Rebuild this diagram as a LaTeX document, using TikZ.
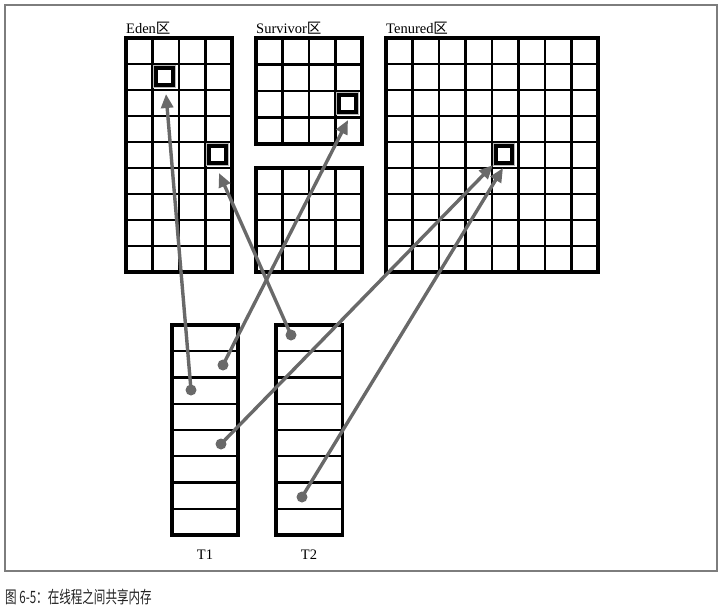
\documentclass[tikz,border=0pt]{standalone}
\usepackage{fontspec}
\setmainfont{Liberation Serif}
\newfontfamily\cjk{Noto Sans CJK SC}
\usetikzlibrary{arrows.meta}
\definecolor{ptrgray}{RGB}{105,105,105}
\definecolor{framegray}{RGB}{125,125,125}
\definecolor{captext}{RGB}{35,35,35}
\newcommand\memgrid[6]{% x y cols rows w h
  \foreach \c in {1,...,#3} {\draw[innerline] ({#1+\c*#5},#2) -- ({#1+\c*#5},{#2+#4*#6});}
  \foreach \r in {1,...,#4} {\draw[innerline] (#1,{#2+\r*#6}) -- ({#1+#3*#5},{#2+\r*#6});}
  \draw[outerline] (#1,#2) rectangle ({#1+#3*#5},{#2+#4*#6});
}
\newcommand\hlcell[3]{% name x y (cell top-left)
  \draw[gray!55, line width=0.8pt] ({#2+1},{#3+1.5}) rectangle ({#2+22.5},{#3+23.5});
  \draw[line width=4pt] ({#2+3.5},{#3+4}) rectangle ({#2+20},{#3+21});
  \coordinate (#1) at ({#2+12},{#3+12});
}
\begin{document}
\begin{tikzpicture}[x=1pt,y=-1pt,
  outerline/.style={line width=3.8pt},
  innerline/.style={line width=2.4pt},
  ptr/.style={draw=ptrgray, line width=3.4pt, -{Triangle[length=14pt,width=12pt]}},
  dotnode/.style={circle, fill=ptrgray, inner sep=0pt, minimum size=11pt},
  lab/.style={font=\fontsize{14.5}{14.5}\selectfont, anchor=base west, inner sep=0pt},
  tlab/.style={font=\fontsize{14.5}{14.5}\selectfont, anchor=base, inner sep=0pt},
]
\useasboundingbox (0,0) rectangle (723,611);
\draw[framegray, line width=1.6pt] (5,5) rectangle (717,571);

% labels
\node[lab] (edenlab) at (126,33) {Eden{\cjk 区}};
\node[lab] (survlab) at (256,33) {Survivor{\cjk 区}};
\node[lab] (tenlab) at (386,33) {Tenured{\cjk 区}};

% heap grids
\memgrid{126}{38}{4}{9}{26.5}{26}
\memgrid{256}{38}{4}{4}{26.5}{26.5}
\memgrid{256}{168}{4}{4}{26.5}{26}
\memgrid{386}{38}{8}{9}{26.5}{26}

% highlighted objects
\hlcell{edenA}{152.5}{64}
\hlcell{edenB}{205.5}{142}
\hlcell{survA}{335.5}{91}
\hlcell{tenA}{492}{142}

% thread stacks
\memgrid{172}{325}{1}{8}{66}{26.25}
\memgrid{276}{325}{1}{8}{66.5}{26.25}
\node[tlab] (t1) at (205,559) {T1};
\node[tlab] (t2) at (309,559) {T2};

% references
\node[dotnode] (d1) at (191,390) {};
\node[dotnode] (d2) at (223,365) {};
\node[dotnode] (d3) at (221,444) {};
\node[dotnode] (d4) at (291,335) {};
\node[dotnode] (d5) at (302,497) {};
\coordinate (tip1) at (166,94);
\coordinate (tip2) at (348,120);
\coordinate (tip3) at (219,173);
\coordinate (tip4) at (493,165);
\coordinate (tip5) at (503,168);
\draw[ptr] (d1.center) -- (tip1);
\draw[ptr] (d2.center) -- (tip2);
\draw[ptr] (d4.center) -- (tip3);
\draw[ptr] (d3.center) -- (tip4);
\draw[ptr] (d5.center) -- (tip5);

% caption
\node[anchor=base west, inner sep=0pt, text=captext] (cap) at (5,603)
  {\scalebox{0.68}[1]{\cjk\fontsize{17}{17}\selectfont 图 6-5：在线程之间共享内存}};
\end{tikzpicture}
\end{document}
